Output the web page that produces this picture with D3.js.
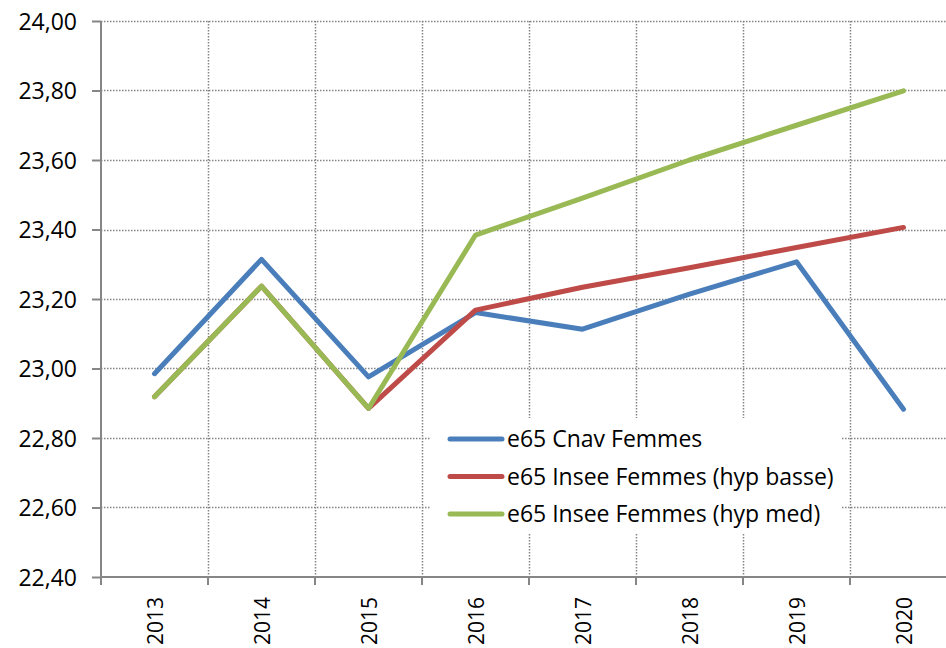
<!DOCTYPE html>
<html>
<head>
<meta charset="utf-8">
<script src="https://cdn.jsdelivr.net/npm/d3@7"></script>
<style>
  body { margin: 0; background: #fff; }
  svg { display: block; font-family: "Open Sans", sans-serif; }
</style>
</head>
<body>
<svg id="chart" width="946" height="648"></svg>
<script>
// years on the x axis
var years = ['2013', '2014', '2015', '2016', '2017', '2018', '2019', '2020'];

// values
var cnavFemmes = [22.985, 23.314, 22.976, 23.161, 23.113, 23.214, 23.307, 22.883];
var inseeBasse = [22.919, 23.237, 22.885, 23.168, 23.234, 23.290, 23.348, 23.406];
var inseeMed = [22.919, 23.237, 22.885, 23.384, 23.490, 23.600, 23.700, 23.799];

var yTicks = [22.4, 22.6, 22.8, 23.0, 23.2, 23.4, 23.6, 23.8, 24.0];

var series = [
  { name: 'e65 Cnav Femmes', values: cnavFemmes, color: '#4A7EBB' },
  { name: 'e65 Insee Femmes (hyp basse)', values: inseeBasse, color: '#BE4B48' },
  { name: 'e65 Insee Femmes (hyp med)', values: inseeMed, color: '#98B954' }
];

var svg = d3.select('#chart');

// plot frame (right edge runs past the picture like the original)
var plotLeft = 101, plotTop = 21, plotBottom = 577;
var step = 107;
var plotRight = plotLeft + step * years.length;

var x = d3.scaleBand().domain(years).range([plotLeft, plotRight]);
var y = d3.scaleLinear().domain([22.4, 24.0]).range([plotBottom, plotTop]);

var fmt = function(d) { return d3.format('.2f')(d).replace('.', ','); };

// dotted grid
var grid = svg.append('g').attr('stroke', '#858585').attr('stroke-width', 1.5)
  .attr('stroke-dasharray', '1.5,1.5');

grid.selectAll('line.h').data(yTicks.slice(1)).enter()
  .append('line')
    .attr('x1', plotLeft).attr('x2', plotRight)
    .attr('y1', function(d) { return Math.round(y(d)) + 0.5; })
    .attr('y2', function(d) { return Math.round(y(d)) + 0.5; });

grid.selectAll('line.v').data(years.slice(1)).enter()
  .append('line')
    .attr('x1', function(d) { return x(d) + 0.5; })
    .attr('x2', function(d) { return x(d) + 0.5; })
    .attr('y1', plotTop).attr('y2', plotBottom);

// y axis
var yAxis = d3.axisLeft(y).tickValues(yTicks).tickFormat(fmt).tickSize(9).tickPadding(15);
var gy = svg.append('g').attr('transform', 'translate(' + plotLeft + ',0)').call(yAxis);
gy.select('.domain').remove();
gy.append('line').attr('x1', 0).attr('x2', 0).attr('y1', plotTop).attr('y2', plotBottom)
  .attr('stroke', '#868686').attr('stroke-width', 2);
gy.selectAll('.tick line').attr('stroke', '#868686').attr('stroke-width', 2);
gy.selectAll('.tick text')
  .attr('fill', '#000')
  .attr('dy', '0.35em')
  .style('font-family', '"Open Sans", sans-serif')
  .style('font-size', '23px');

// x axis, ticks on category boundaries
var gx = svg.append('g').attr('transform', 'translate(0,' + plotBottom + ')')
  .attr('stroke', '#868686').attr('stroke-width', 2);
gx.append('line').attr('x1', plotLeft).attr('x2', plotRight);
gx.selectAll('line.tick').data(d3.range(years.length + 1)).enter()
  .append('line')
    .attr('x1', function(i) { return plotLeft + i * step; })
    .attr('x2', function(i) { return plotLeft + i * step; })
    .attr('y1', 0).attr('y2', 8);

svg.append('g').selectAll('text').data(years).enter()
  .append('text')
    .attr('transform', function(d) {
      return 'translate(' + (x(d) + x.bandwidth() / 2 + 8) + ',' + (plotBottom + 20) + ') rotate(-90)';
    })
    .attr('text-anchor', 'end')
    .style('font-size', '21px')
    .text(function(d) { return d; });

// series lines
var line = d3.line()
  .x(function(d, i) { return x(years[i]) + x.bandwidth() / 2; })
  .y(function(d) { return y(d); });

svg.append('g').selectAll('path').data(series).enter()
  .append('path')
    .attr('d', function(d) { return line(d.values); })
    .attr('fill', 'none')
    .attr('stroke', function(d) { return d.color; })
    .attr('stroke-width', 5)
    .attr('stroke-linejoin', 'round')
    .attr('stroke-linecap', 'round');

// legend
var legend = svg.append('g');
legend.append('rect')
  .attr('x', 430).attr('y', 418).attr('width', 412).attr('height', 115)
  .attr('fill', '#fff');

var rows = legend.selectAll('g').data(series).enter()
  .append('g')
    .attr('transform', function(d, i) { return 'translate(448,' + (439 + i * 37.5) + ')'; });

rows.append('line')
  .attr('x1', 2).attr('x2', 54)
  .attr('stroke', function(d) { return d.color; })
  .attr('stroke-width', 5)
  .attr('stroke-linecap', 'round');

rows.append('text')
  .attr('x', 59).attr('dy', '0.35em')
  .style('font-size', '23px')
  .text(function(d) { return d.name; });
</script>
</body>
</html>
